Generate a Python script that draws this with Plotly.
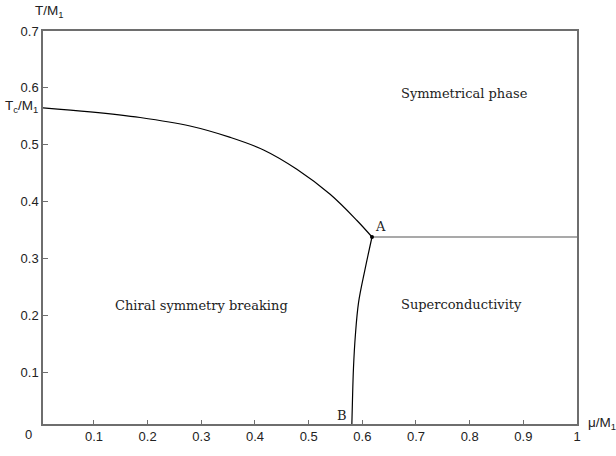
import plotly.graph_objects as go

# Phase boundary: chiral transition line (from T axis to point A)
chiral_mu = [0.005, 0.093, 0.186, 0.279, 0.354, 0.416, 0.478, 0.540, 0.590, 0.618]
chiral_T = [0.565, 0.558, 0.548, 0.533, 0.513, 0.491, 0.457, 0.413, 0.367, 0.338]

# Boundary between chiral symmetry breaking and superconductivity (A to B)
sc_mu = [0.618, 0.605, 0.593, 0.587, 0.5835, 0.5816, 0.5805]
sc_T = [0.338, 0.281, 0.223, 0.165, 0.1075, 0.050, 0.009]

# Superconductivity / symmetric phase boundary
hor_mu = [0.618, 1.0]
hor_T = [0.338, 0.338]

# Special points A and B
pts_mu = [0.618, 0.5805]
pts_T = [0.338, 0.009]

x_ticks = [0.1, 0.2, 0.3, 0.4, 0.5, 0.6, 0.7, 0.8, 0.9, 1.0]
x_ticktext = ["0.1", "0.2", "0.3", "0.4", "0.5", "0.6", "0.7", "0.8", "0.9", "1"]
y_ticks = [0.1, 0.2, 0.3, 0.4, 0.5, 0.6, 0.7]
y_ticktext = ["0.1", "0.2", "0.3", "0.4", "0.5", "0.6", "0.7"]

SERIF = "DejaVu Serif"
SANS = "Liberation Sans, Arial"

fig = go.Figure()
fig.add_trace(go.Scatter(x=chiral_mu, y=chiral_T, mode="lines",
                         line=dict(color="black", width=1.2, shape="spline", smoothing=1.0),
                         showlegend=False, hoverinfo="skip"))
fig.add_trace(go.Scatter(x=sc_mu, y=sc_T, mode="lines",
                         line=dict(color="black", width=1.2, shape="spline", smoothing=1.0),
                         showlegend=False, hoverinfo="skip"))
fig.add_trace(go.Scatter(x=hor_mu, y=hor_T, mode="lines",
                         line=dict(color="#555555", width=1.2),
                         showlegend=False, hoverinfo="skip"))
fig.add_trace(go.Scatter(x=pts_mu, y=pts_T, mode="markers",
                         marker=dict(color="black", size=4),
                         showlegend=False, hoverinfo="skip", cliponaxis=False))

axis_common = dict(showgrid=False, zeroline=False, showline=True, linecolor="#6e6e6e",
                   linewidth=1.5, mirror=True, ticks="inside", tickcolor="#6e6e6e",
                   tickwidth=1, tickfont=dict(family=SANS, size=13, color="#222222"))

fig.update_xaxes(range=[0.005, 1.0], tickvals=x_ticks, ticktext=x_ticktext,
                 ticklen=4, **axis_common)
fig.update_yaxes(range=[0.0094, 0.7], tickvals=y_ticks, ticktext=y_ticktext,
                 ticklen=5, **axis_common)

ann = []
def add(text, x, y, font, size, xanchor="center", yanchor="middle", ref="data"):
    r = ("x", "y") if ref == "data" else ("paper", "paper")
    ann.append(dict(text=text, x=x, y=y, xref=r[0], yref=r[1], showarrow=False,
                    xanchor=xanchor, yanchor=yanchor,
                    font=dict(family=font, size=size, color="#222222")))

add("Symmetrical phase", 0.791, 0.591, SERIF, 13)
add("Chiral symmetry breaking", 0.300, 0.217, SERIF, 13)
add("Superconductivity", 0.784, 0.220, SERIF, 13)
add("A", 0.633, 0.357, SERIF, 13)
add("B", 0.562, 0.025, SERIF, 13)
add("T/M<sub>1</sub>", 0.0127, 1.050, SANS, 13.5, ref="paper")
add("T<sub>c</sub>/M<sub>1</sub>", -0.005, 0.807, SANS, 13.5, xanchor="right", ref="paper")
add("μ/M<sub>1</sub>", 1.017, 0.0025, SANS, 13.5, xanchor="left", ref="paper")
add("0", -0.0275, -0.0276, SANS, 13, ref="paper")

fig.update_layout(width=616, height=456, margin=dict(l=43, r=39, t=31, b=26),
                  paper_bgcolor="white", plot_bgcolor="white", annotations=ann)

fig.write_html("out.html", config={"displayModeBar": False},
               post_script="document.body.style.margin='0';")
